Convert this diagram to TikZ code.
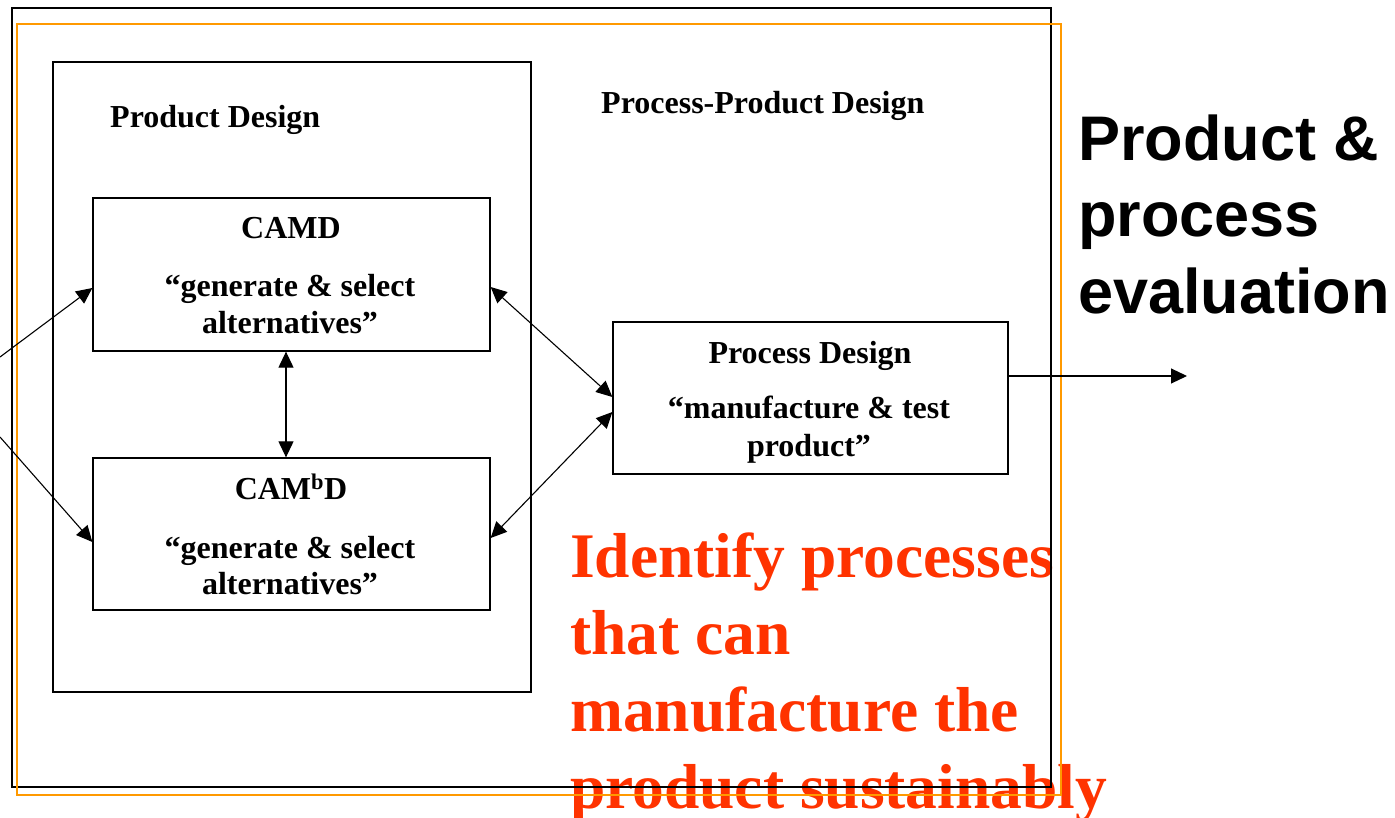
\documentclass[tikz,border=0pt]{standalone}
\usepackage{fontspec}
\setmainfont{Liberation Serif}
\newfontfamily\arialf{Liberation Sans}
\usetikzlibrary{arrows.meta}
\definecolor{frameorange}{RGB}{255,153,0}
\definecolor{hlred}{RGB}{255,51,0}
\begin{document}
\begin{tikzpicture}[x=1pt,y=-1pt,
  box/.style={draw=black,line width=1.3pt,inner sep=0pt,fill=none},
  lbl/.style={font=\fontsize{32}{36}\selectfont\bfseries,inner sep=0pt},
  big/.style={font=\arialf\fontsize{63}{75}\selectfont\bfseries,inner sep=0pt,anchor=base west},
  red/.style={font=\fontsize{63.5}{77}\selectfont\bfseries,text=hlred,inner sep=0pt,anchor=base west},
  conn/.style={line width=1.1pt,-{Triangle[length=16pt,width=15pt]}},
  dconn/.style={line width=1.1pt,{Triangle[length=16pt,width=15pt]}-{Triangle[length=16pt,width=15pt]}}
]
\useasboundingbox (0,0) rectangle (1395,818);

% red text (under the frames)
\node[red] (r1) at (570,577) {Identify processes};
\node[red] (r2) at (570,654) {that can};
\node[red] (r3) at (570,731) {manufacture the};
\node[red] (r4) at (570,808) {product sustainably};

% frames
\node[box,minimum width=1039pt,minimum height=779pt] (outer) at (531.5,397.5) {};
\node[draw=frameorange,line width=2.2pt,inner sep=0pt,minimum width=1044pt,minimum height=771pt] (orange) at (539,409.5) {};
\node[box,minimum width=478pt,minimum height=630pt] (pd) at (292,377) {};
\node[box,minimum width=397pt,minimum height=153pt] (camd) at (291.5,274.5) {};
\node[box,minimum width=397pt,minimum height=152pt] (cambd) at (291.5,534) {};
\node[box,minimum width=395pt,minimum height=152pt] (proc) at (810.5,398) {};

% labels
\node[lbl,anchor=base west] (pdt) at (110,128) {Product Design};
\node[lbl,anchor=base west] (ppd) at (601,114) {Process-Product Design};
\node[lbl,anchor=base] (t1) at (291,239) {CAMD};
\node[lbl,anchor=base] (t2) at (290,297) {“generate \& select};
\node[lbl,anchor=base] (t3) at (290,334) {alternatives”};
\node[lbl,anchor=base] (t4) at (291,499) {CAM\textsuperscript{b}D};
\node[lbl,anchor=base] (t5) at (290,558) {“generate \& select};
\node[lbl,anchor=base] (t6) at (290,594) {alternatives”};
\node[lbl,anchor=base] (t7) at (810,363) {Process Design};
\node[lbl,anchor=base] (t8) at (809,418) {“manufacture \& test};
\node[lbl,anchor=base] (t9) at (809,456) {product”};

\node[big] (b1) at (1078,161) {Product \&};
\node[big] (b2) at (1078,237) {process};
\node[big] (b3) at (1078,314) {evaluation};

% connectors
\coordinate (in1) at (0,357);
\coordinate (in2) at (0,437);
\coordinate (out) at (1187,376);
\draw[conn] (in1) -- ([yshift=-13.5pt]camd.west);
\draw[conn] (in2) -- ([yshift=-8pt]cambd.west);
\draw[dconn] ([xshift=-5.5pt]camd.south) -- ([xshift=-5.5pt]cambd.north);
\draw[dconn] ([yshift=-12.5pt]camd.east) -- ([yshift=1pt]proc.west);
\draw[dconn] ([yshift=-4pt]cambd.east) -- ([yshift=-14pt]proc.west);
\draw[conn] ([yshift=22pt]proc.east) -- (out);
\end{tikzpicture}
\end{document}
